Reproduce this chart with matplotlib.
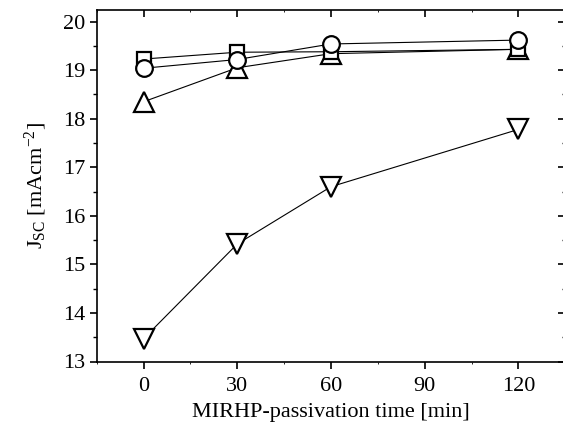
import matplotlib
matplotlib.use('Agg')
import matplotlib.pyplot as plt
from matplotlib.ticker import MultipleLocator

plt.rcParams['font.family'] = ['Liberation Serif', 'DejaVu Serif']
plt.rcParams['mathtext.fontset'] = 'custom'
plt.rcParams['mathtext.rm'] = 'Liberation Serif'
plt.rcParams['mathtext.it'] = 'Liberation Serif:italic'

# passivation time [min]
zeit = [0, 30, 60, 120]
# Jsc values per sample series
jsc_kotak = [19.23, 19.37, 19.38, 19.43]
jsc_bulat = [19.04, 19.22, 19.54, 19.62]
jsc_segitiga = [18.35, 19.05, 19.34, 19.43]
jsc_terbalik = [13.47, 15.42, 16.6, 17.78]

fig = plt.figure(figsize=(5.63, 4.32), dpi=100)
ax = fig.add_axes([96.7/563, 1 - 361.5/432, (565.2 - 96.7)/563, (361.5 - 9.5)/432])

gaya = dict(color='black', lw=0.8, mfc='white', mec='black', mew=1.6)
ax.plot(zeit, jsc_terbalik, marker='v', ms=14, **gaya)
ax.plot(zeit, jsc_segitiga, marker='^', ms=14, **gaya)
ax.plot(zeit, jsc_kotak, marker='s', ms=10.5, **gaya)
ax.plot(zeit, jsc_bulat, marker='o', ms=12, **gaya)

ax.set_xlim(-15, 135)
ax.set_ylim(13, 20.25)
ax.xaxis.set_major_locator(MultipleLocator(30))
ax.xaxis.set_minor_locator(MultipleLocator(15))
ax.yaxis.set_major_locator(MultipleLocator(1))
ax.yaxis.set_minor_locator(MultipleLocator(0.5))

for s in ax.spines.values():
    s.set_linewidth(1.2)
ax.spines['right'].set_visible(False)

ax.tick_params(axis='both', which='major', labelsize=16, width=1.2, length=5,
               direction='out')
ax.tick_params(axis='x', which='major', pad=6)
ax.tick_params(axis='x', which='minor', length=1.5, width=0.6)
ax.tick_params(axis='y', which='minor', length=3, width=1.0)

# sisi kanan: ticks ke dalam tanpa label
kanan = ax.twinx()
kanan.set_ylim(ax.get_ylim())
kanan.yaxis.set_major_locator(MultipleLocator(1))
kanan.yaxis.set_minor_locator(MultipleLocator(0.5))
kanan.tick_params(which='major', direction='in', length=5, width=1.2, labelright=False)
kanan.tick_params(which='minor', direction='in', length=2.5, width=1.0)
for s in kanan.spines.values():
    s.set_visible(False)

# sisi atas: ticks ke dalam tanpa label
atas = ax.twiny()
atas.set_xlim(ax.get_xlim())
atas.xaxis.set_major_locator(MultipleLocator(30))
atas.xaxis.set_minor_locator(MultipleLocator(15))
atas.tick_params(which='major', direction='in', length=5, width=1.2, labeltop=False)
atas.tick_params(which='minor', direction='in', length=1.5, width=0.6)
for s in atas.spines.values():
    s.set_visible(False)

ax.set_xlabel('MIRHP-passivation time [min]', fontsize=16, labelpad=5)
ax.set_ylabel(r'J$_{\mathrm{SC}}$ [mAcm$^{\mathrm{-2}}$]', fontsize=16, labelpad=10)

fig.savefig('out.png', dpi=100)
